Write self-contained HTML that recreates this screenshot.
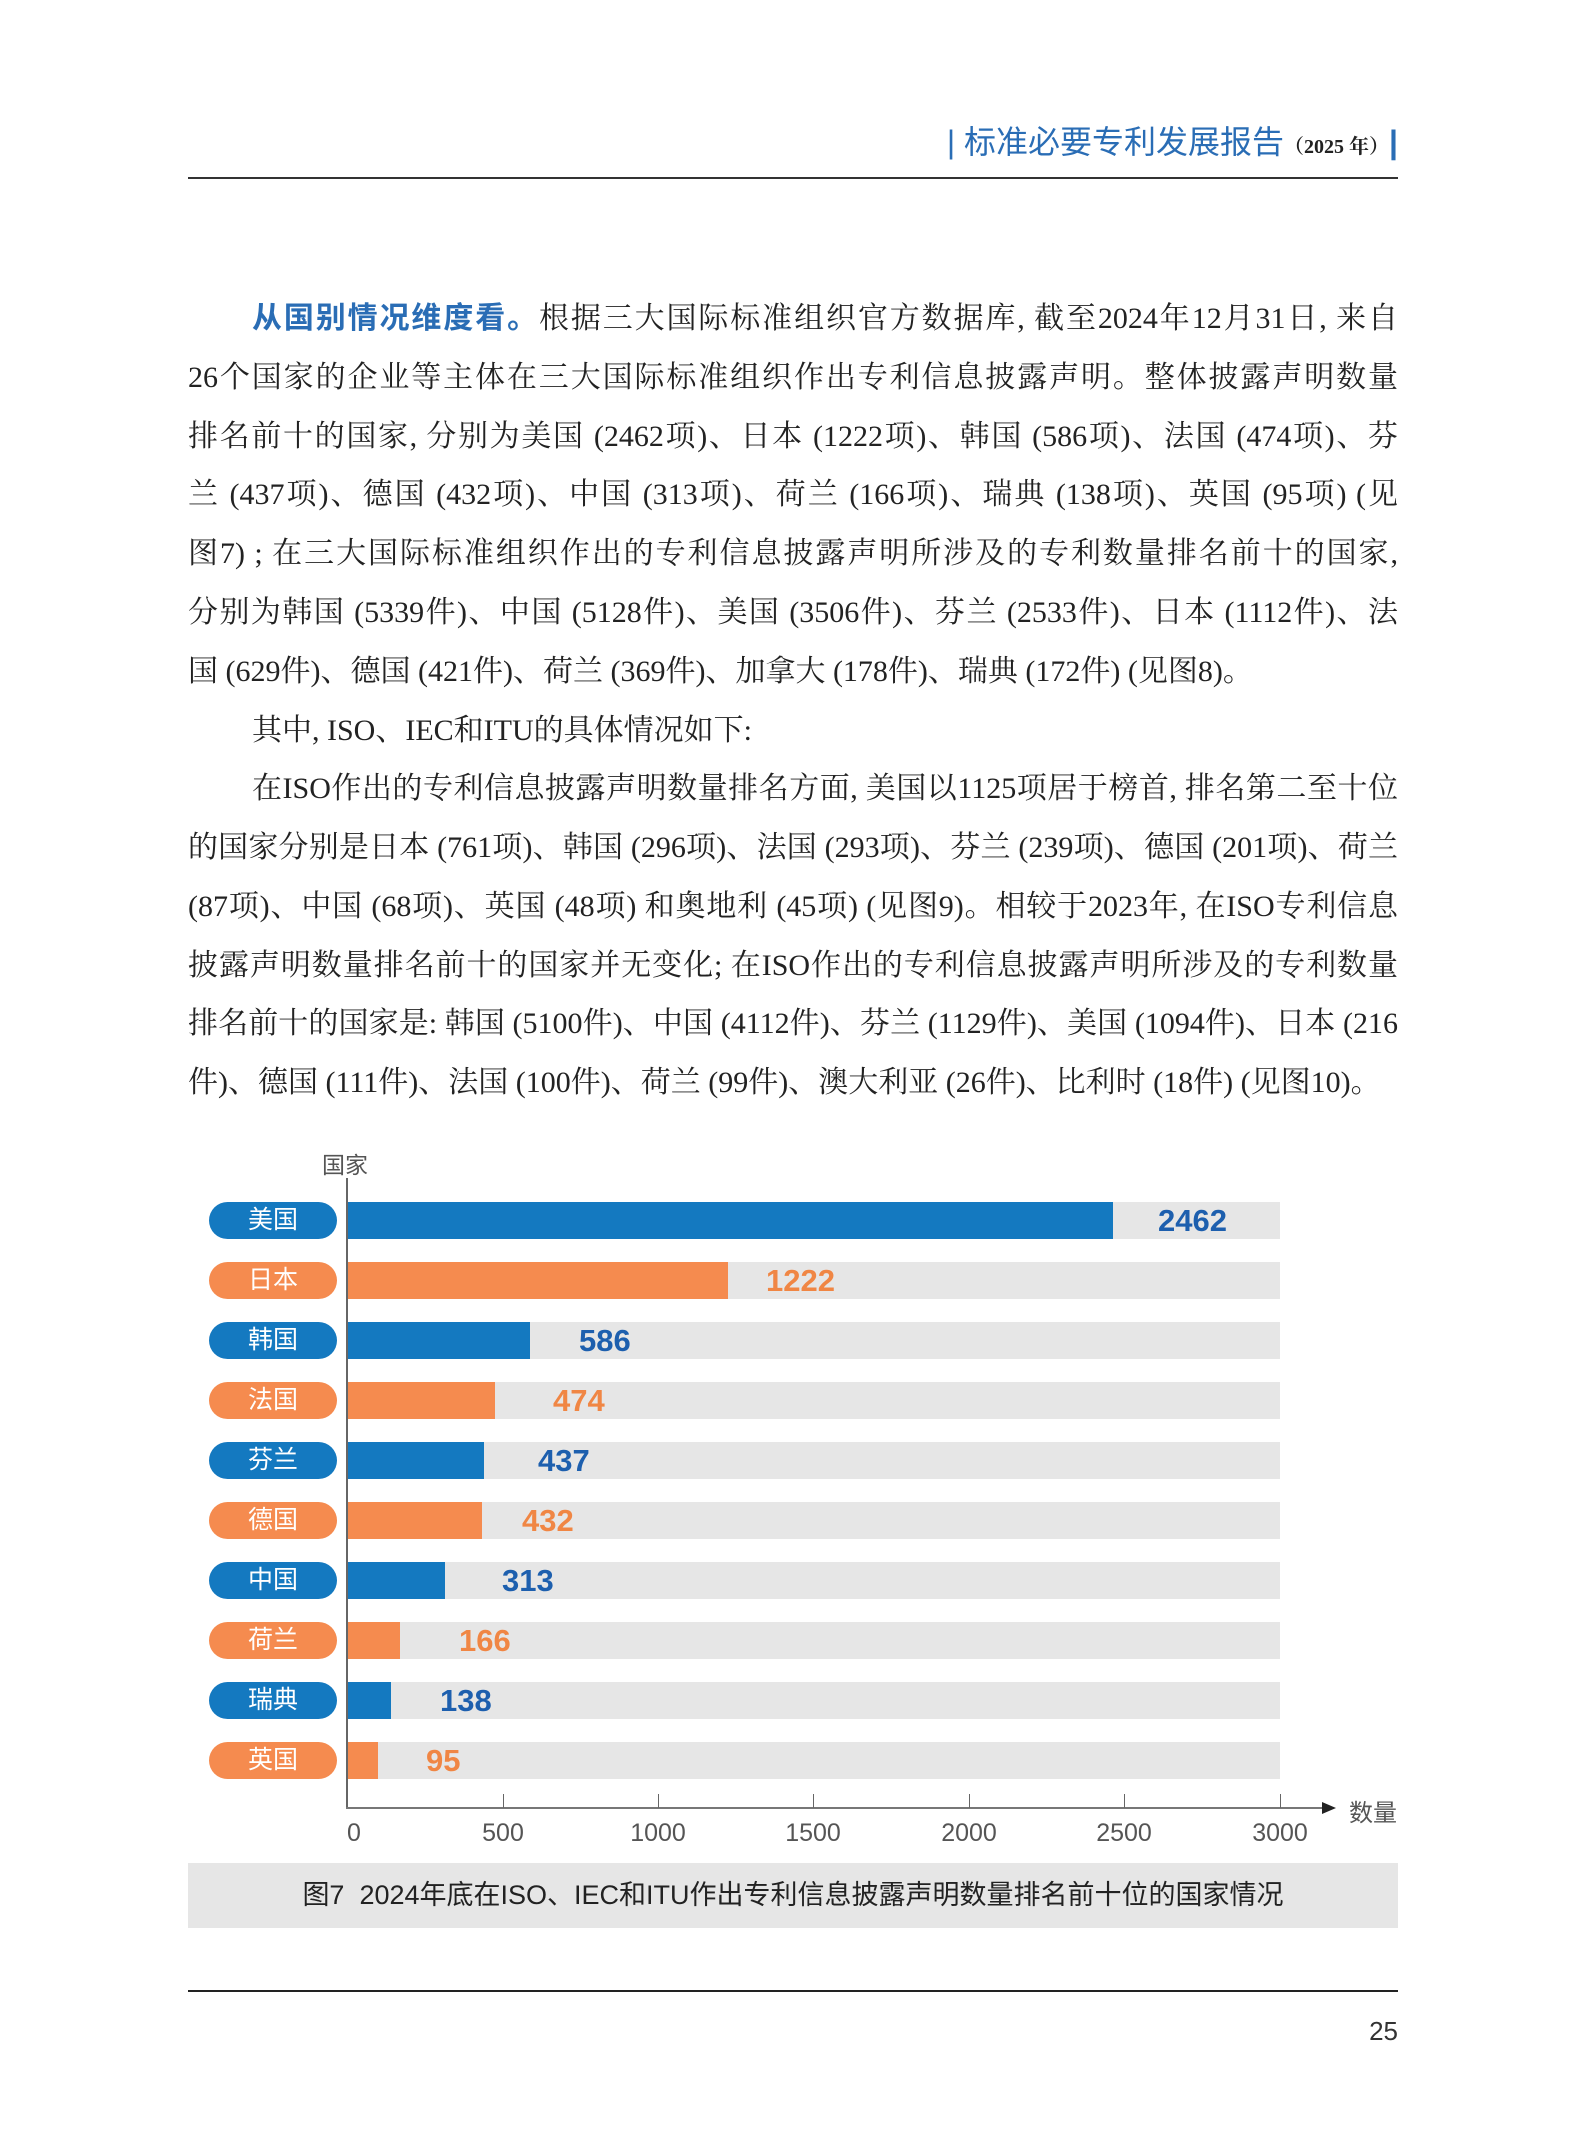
<!DOCTYPE html>
<html><head><meta charset="utf-8">
<style>
html,body{margin:0;padding:0;background:#fff;}
body{width:1587px;height:2154px;position:relative;overflow:hidden;}
.abs{position:absolute;}
.ser{font-family:"Liberation Serif","Noto Serif CJK SC",serif;}
.san{font-family:"Liberation Sans","Noto Sans CJK SC",sans-serif;}
.ln{position:absolute;left:188px;width:1210px;height:40px;line-height:40px;font-size:30px;color:#222;text-align:justify;text-align-last:justify;white-space:nowrap;overflow:visible;}
.ind{left:252px;width:1146px;}
.pill{position:absolute;left:209px;width:128px;height:37px;border-radius:19px;color:#fff;font-size:25px;line-height:37px;text-align:center;}
.b{background:#1479c0}.o{background:#f58b4f}
.track{position:absolute;left:348px;width:932px;height:37px;background:#e6e6e6;}
.bar{position:absolute;left:348px;height:37px;}
.val{position:absolute;font-size:31px;font-weight:bold;line-height:37px;}
.vb{color:#1d5fae}.vo{color:#f08644}
.tk{position:absolute;top:1794px;width:1px;height:14px;background:#666;}
.tl{position:absolute;top:1819px;width:80px;margin-left:-40px;text-align:center;font-size:25px;color:#555;}
</style></head><body>

<div class="abs san" style="right:189px;top:122px;height:40px;line-height:40px;white-space:nowrap;">
<span style="color:#2a6db5;font-size:32px;">|&nbsp;标准必要专利发展报告</span><span class="ser" style="font-size:20px;font-weight:bold;color:#222;">（2025 年）</span><span style="color:#2a6db5;font-size:32px;font-weight:bold;">|</span>
</div>
<div class="abs" style="left:188px;top:177px;width:1210px;height:2px;background:#333;"></div>

<div class="ser">
<div class="ln ind" style="top:299px;"><b class="san" style="color:#2a6db5;font-weight:bold;">从国别情况维度看。</b>根据三大国际标准组织官方数据库, 截至2024年12月31日, 来自</div>
<div class="ln" style="top:358px;">26个国家的企业等主体在三大国际标准组织作出专利信息披露声明。整体披露声明数量</div>
<div class="ln" style="top:417px;">排名前十的国家, 分别为美国 (2462项)、日本 (1222项)、韩国 (586项)、法国 (474项)、芬</div>
<div class="ln" style="top:475px;">兰 (437项)、德国 (432项)、中国 (313项)、荷兰 (166项)、瑞典 (138项)、英国 (95项) (见</div>
<div class="ln" style="top:534px;">图7) ; 在三大国际标准组织作出的专利信息披露声明所涉及的专利数量排名前十的国家,</div>
<div class="ln" style="top:593px;">分别为韩国 (5339件)、中国 (5128件)、美国 (3506件)、芬兰 (2533件)、日本 (1112件)、法</div>
<div class="ln" style="top:652px;text-align-last:left;">国 (629件)、德国 (421件)、荷兰 (369件)、加拿大 (178件)、瑞典 (172件) (见图8)。</div>
<div class="ln ind" style="top:711px;text-align-last:left;">其中, ISO、IEC和ITU的具体情况如下:</div>
<div class="ln ind" style="top:769px;">在ISO作出的专利信息披露声明数量排名方面, 美国以1125项居于榜首, 排名第二至十位</div>
<div class="ln" style="top:828px;">的国家分别是日本 (761项)、韩国 (296项)、法国 (293项)、芬兰 (239项)、德国 (201项)、荷兰</div>
<div class="ln" style="top:887px;">(87项)、中国 (68项)、英国 (48项) 和奥地利 (45项) (见图9)。相较于2023年, 在ISO专利信息</div>
<div class="ln" style="top:946px;">披露声明数量排名前十的国家并无变化; 在ISO作出的专利信息披露声明所涉及的专利数量</div>
<div class="ln" style="top:1004px;">排名前十的国家是: 韩国 (5100件)、中国 (4112件)、芬兰 (1129件)、美国 (1094件)、日本 (216</div>
<div class="ln" style="top:1063px;text-align-last:left;">件)、德国 (111件)、法国 (100件)、荷兰 (99件)、澳大利亚 (26件)、比利时 (18件) (见图10)。</div>
</div>

<div class="san">
<div class="abs" style="left:322px;top:1146px;font-size:23px;color:#555;">国家</div>
<div class="abs" style="left:346px;top:1178px;width:2px;height:631px;background:#666;"></div>

<div class="pill b" style="top:1202px;">美国</div><div class="track" style="top:1202px;"></div><div class="bar b" style="top:1202px;width:765px;"></div><div class="val vb" style="top:1202px;left:1158px;">2462</div>
<div class="pill o" style="top:1262px;">日本</div><div class="track" style="top:1262px;"></div><div class="bar o" style="top:1262px;width:380px;"></div><div class="val vo" style="top:1262px;left:766px;">1222</div>
<div class="pill b" style="top:1322px;">韩国</div><div class="track" style="top:1322px;"></div><div class="bar b" style="top:1322px;width:182px;"></div><div class="val vb" style="top:1322px;left:579px;">586</div>
<div class="pill o" style="top:1382px;">法国</div><div class="track" style="top:1382px;"></div><div class="bar o" style="top:1382px;width:147px;"></div><div class="val vo" style="top:1382px;left:553px;">474</div>
<div class="pill b" style="top:1442px;">芬兰</div><div class="track" style="top:1442px;"></div><div class="bar b" style="top:1442px;width:136px;"></div><div class="val vb" style="top:1442px;left:538px;">437</div>
<div class="pill o" style="top:1502px;">德国</div><div class="track" style="top:1502px;"></div><div class="bar o" style="top:1502px;width:134px;"></div><div class="val vo" style="top:1502px;left:522px;">432</div>
<div class="pill b" style="top:1562px;">中国</div><div class="track" style="top:1562px;"></div><div class="bar b" style="top:1562px;width:97px;"></div><div class="val vb" style="top:1562px;left:502px;">313</div>
<div class="pill o" style="top:1622px;">荷兰</div><div class="track" style="top:1622px;"></div><div class="bar o" style="top:1622px;width:52px;"></div><div class="val vo" style="top:1622px;left:459px;">166</div>
<div class="pill b" style="top:1682px;">瑞典</div><div class="track" style="top:1682px;"></div><div class="bar b" style="top:1682px;width:43px;"></div><div class="val vb" style="top:1682px;left:440px;">138</div>
<div class="pill o" style="top:1742px;">英国</div><div class="track" style="top:1742px;"></div><div class="bar o" style="top:1742px;width:30px;"></div><div class="val vo" style="top:1742px;left:426px;">95</div>

<div class="abs" style="left:346px;top:1807px;width:978px;height:2px;background:#777;"></div>
<div class="abs" style="left:1322px;top:1802px;width:0;height:0;border-left:14px solid #222;border-top:6px solid transparent;border-bottom:6px solid transparent;"></div>
<div class="abs" style="left:1349px;top:1793px;font-size:24px;color:#555;">数量</div>

<div class="tk" style="left:503px;"></div><div class="tk" style="left:658px;"></div><div class="tk" style="left:813px;"></div>
<div class="tk" style="left:969px;"></div><div class="tk" style="left:1124px;"></div><div class="tk" style="left:1280px;"></div>
<div class="tl" style="left:354px;">0</div><div class="tl" style="left:503px;">500</div><div class="tl" style="left:658px;">1000</div>
<div class="tl" style="left:813px;">1500</div><div class="tl" style="left:969px;">2000</div><div class="tl" style="left:1124px;">2500</div><div class="tl" style="left:1280px;">3000</div>

<div class="abs" style="left:188px;top:1863px;width:1210px;height:65px;background:#e6e6e6;"></div>
<div class="abs" style="left:188px;top:1863px;width:1210px;height:65px;line-height:65px;text-align:center;font-size:27px;color:#222;">图7&nbsp;&nbsp;2024年底在ISO、IEC和ITU作出专利信息披露声明数量排名前十位的国家情况</div>

<div class="abs" style="left:188px;top:1990px;width:1210px;height:2px;background:#222;"></div>
<div class="abs" style="left:1340px;top:2016px;width:58px;text-align:right;font-size:26px;color:#333;">25</div>
</div>
</body></html>
